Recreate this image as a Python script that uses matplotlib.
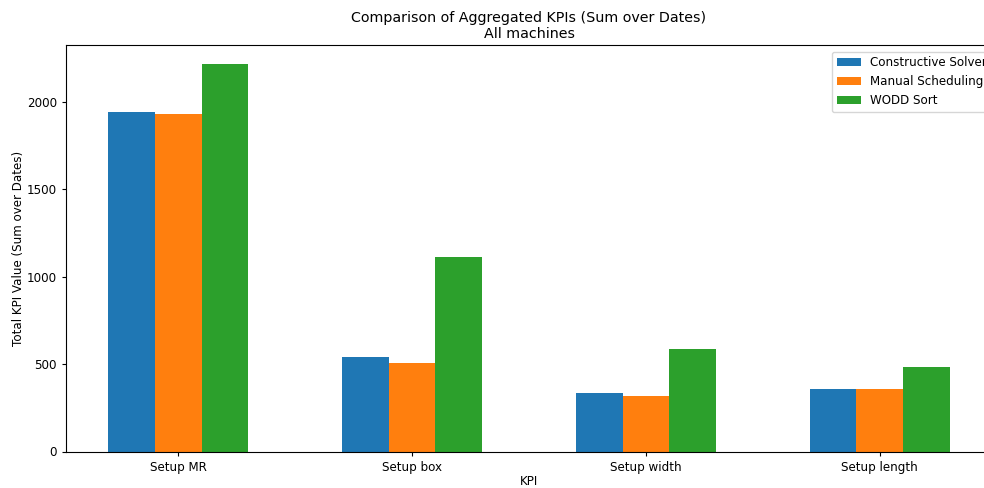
import numpy as np
import matplotlib.pyplot as plt

# KPI totals per method (summed over all dates)
kpis = ['Setup MR', 'Setup box', 'Setup width', 'Setup length']
constructive_solver = [1943, 539, 333, 356]
manual_scheduling = [1933, 505, 318, 356]
wodd_sort = [2218, 1112, 585, 482]

methods = ['Constructive Solver', 'Manual Scheduling', 'WODD Sort']
colors = ['#1f77b4', '#ff7f0e', '#2ca02c']

plt.rcParams['font.size'] = 8.6
plt.rcParams['xtick.major.size'] = 3
plt.rcParams['ytick.major.size'] = 3

fig = plt.figure(figsize=(9.84, 4.88), dpi=100)
ax = fig.add_axes([66 / 984, 36.5 / 488, 926 / 984, 407 / 488])

x = np.arange(len(kpis))
width = 0.2
for i, (vals, name, col) in enumerate(zip([constructive_solver, manual_scheduling, wodd_sort], methods, colors)):
    ax.bar(x + (i - 1) * width, vals, width, label=name, color=col)

ax.set_xticks(x)
ax.set_xticklabels(kpis)
ax.set_xlabel('KPI', labelpad=1)
ax.set_ylabel('Total KPI Value (Sum over Dates)', labelpad=1)
ax.set_title('Comparison of Aggregated KPIs (Sum over Dates)\nAll machines', fontsize=10.3, pad=4.5)
ax.legend(loc='upper left', bbox_to_anchor=(832 / 984, 1 - 51.7 / 488),
          bbox_transform=fig.transFigure, borderaxespad=0)

fig.savefig('out.png', dpi=100)
